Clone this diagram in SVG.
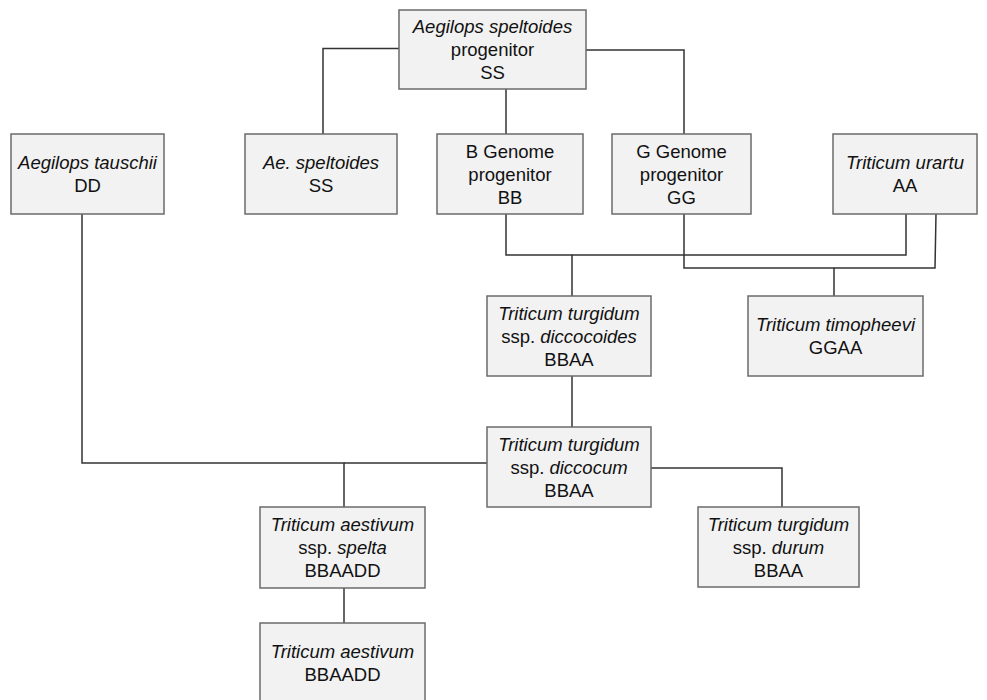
<svg xmlns="http://www.w3.org/2000/svg" width="987" height="700" viewBox="0 0 987 700">
<style>
.box{fill:#f2f2f2;stroke:#6b6b6b;stroke-width:1.5}
.edge{fill:none;stroke:#333333;stroke-width:1.5}
text{font-family:"Liberation Sans",Arial,Helvetica,sans-serif;font-size:18.5px;fill:#111111;text-anchor:middle}
.i{font-style:italic}
</style>
<rect width="987" height="700" fill="#ffffff"/>
<g id="connectors">
<path class="edge" d="M399,48.5 H323 V134"/>
<path class="edge" d="M506,89 V134"/>
<path class="edge" d="M586,50 H684 V134"/>
<path class="edge" d="M506,214 V255 H572 V296"/>
<path class="edge" d="M906,214 V255 H572"/>
<path class="edge" d="M684,214 V268 H834 V296"/>
<path class="edge" d="M936,214 L935,268 H834"/>
<path class="edge" d="M572,376 V427"/>
<path class="edge" d="M82,214 V463 H344 V507"/>
<path class="edge" d="M487,463 H344"/>
<path class="edge" d="M651,468 H782 V507"/>
<path class="edge" d="M344,588 V623"/>
</g>
<g id="speltoides-progenitor">
<rect class="box" x="399" y="10" width="187" height="79"/>
<text x="492.5" y="33"><tspan class="i">Aegilops speltoides</tspan></text>
<text x="492.5" y="56">progenitor</text>
<text x="492.5" y="79">SS</text>
</g>
<g id="tauschii">
<rect class="box" x="11" y="134" width="153" height="80"/>
<text x="87.5" y="168.5" class="i">Aegilops tauschii</text>
<text x="87.5" y="191.5">DD</text>
</g>
<g id="ae-speltoides">
<rect class="box" x="245" y="134" width="152" height="80"/>
<text x="321" y="168.5" class="i">Ae. speltoides</text>
<text x="321" y="191.5">SS</text>
</g>
<g id="b-genome">
<rect class="box" x="437" y="134" width="146" height="80"/>
<text x="510" y="157.5">B Genome</text>
<text x="510" y="180.5">progenitor</text>
<text x="510" y="203.5">BB</text>
</g>
<g id="g-genome">
<rect class="box" x="612" y="134" width="139" height="80"/>
<text x="681.5" y="157.5">G Genome</text>
<text x="681.5" y="180.5">progenitor</text>
<text x="681.5" y="203.5">GG</text>
</g>
<g id="urartu">
<rect class="box" x="833" y="134" width="144" height="80"/>
<text x="905" y="168.5" class="i">Triticum urartu</text>
<text x="905" y="191.5">AA</text>
</g>
<g id="diccocoides">
<rect class="box" x="487" y="296" width="164" height="80"/>
<text x="569" y="319.5" class="i">Triticum turgidum</text>
<text x="569" y="342.5">ssp. <tspan class="i">diccocoides</tspan></text>
<text x="569" y="365.5">BBAA</text>
</g>
<g id="timopheevi">
<rect class="box" x="748" y="296" width="175" height="80"/>
<text x="835.5" y="330.5" class="i">Triticum timopheevi</text>
<text x="835.5" y="353.5">GGAA</text>
</g>
<g id="diccocum">
<rect class="box" x="487" y="427" width="164" height="80"/>
<text x="569" y="450.5" class="i">Triticum turgidum</text>
<text x="569" y="473.5">ssp. <tspan class="i">diccocum</tspan></text>
<text x="569" y="496.5">BBAA</text>
</g>
<g id="spelta">
<rect class="box" x="260" y="507" width="165" height="81"/>
<text x="342.5" y="531" class="i">Triticum aestivum</text>
<text x="342.5" y="554">ssp. <tspan class="i">spelta</tspan></text>
<text x="342.5" y="577">BBAADD</text>
</g>
<g id="durum">
<rect class="box" x="698" y="507" width="161" height="80"/>
<text x="778.5" y="530.5" class="i">Triticum turgidum</text>
<text x="778.5" y="553.5">ssp. <tspan class="i">durum</tspan></text>
<text x="778.5" y="576.5">BBAA</text>
</g>
<g id="aestivum">
<rect class="box" x="260" y="623" width="165" height="80"/>
<text x="342.5" y="657.5" class="i">Triticum aestivum</text>
<text x="342.5" y="680.5">BBAADD</text>
</g>
</svg>
